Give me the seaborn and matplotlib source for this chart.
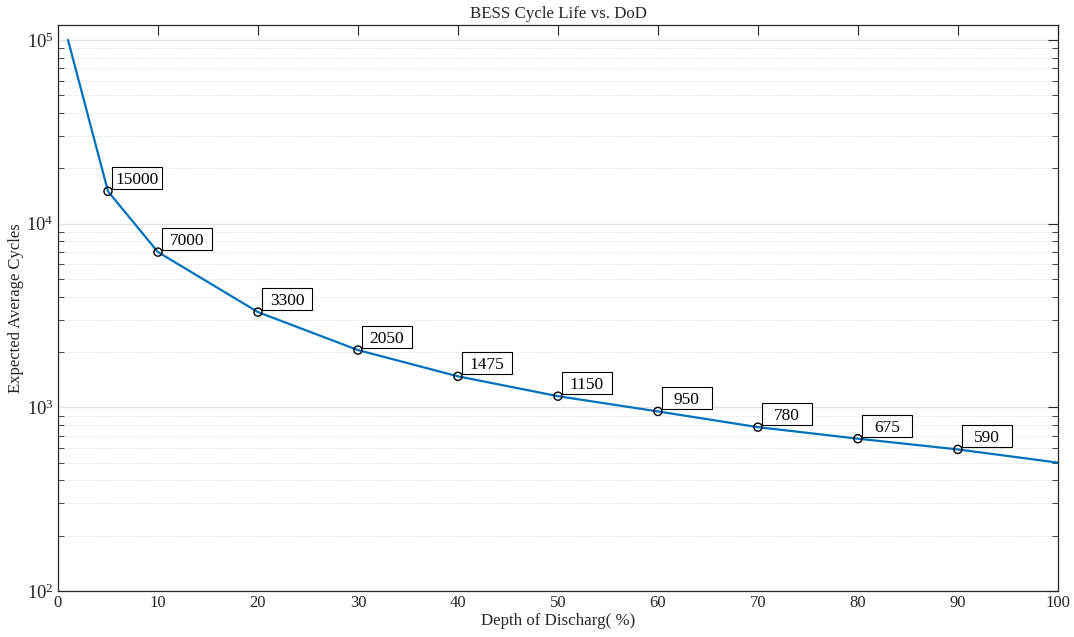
import matplotlib
matplotlib.use("Agg")
import matplotlib.pyplot as plt
import matplotlib.ticker as mticker
import matplotlib.transforms as mtransforms
from matplotlib.patches import Rectangle
import seaborn as sns
import pandas as pd

# Depth of discharge (%) and expected cycle life
dod = [1, 5, 10, 20, 30, 40, 50, 60, 70, 80, 90, 100]
cycles = [100000, 15000, 7000, 3300, 2050, 1475, 1150, 950, 780, 675, 590, 500]

# Annotated points
mark_dod = [5, 10, 20, 30, 40, 50, 60, 70, 80, 90]
mark_cycles = [15000, 7000, 3300, 2050, 1475, 1150, 950, 780, 675, 590]

x_ticks = [0, 10, 20, 30, 40, 50, 60, 70, 80, 90, 100]

sns.set_theme(style="white")
plt.rcParams["font.family"] = ["Liberation Serif", "DejaVu Serif"]
plt.rcParams["mathtext.fontset"] = "cm"

DPI = 100
fig = plt.figure(figsize=(10.74, 6.37), dpi=DPI)
ax = fig.add_axes([0.054, 0.0722, 0.931, 0.8886])

line_df = pd.DataFrame({"dod": dod, "cycles": cycles})
mark_df = pd.DataFrame({"dod": mark_dod, "cycles": mark_cycles})

sns.lineplot(data=line_df, x="dod", y="cycles", ax=ax, color="#0072BD",
             linewidth=1.6, zorder=3)
sns.scatterplot(data=mark_df, x="dod", y="cycles", ax=ax, marker="o",
                s=34, facecolor="none", edgecolor="black", linewidth=1.0,
                zorder=4)

ax.set_yscale("log")
ax.set_xlim(0, 100)
ax.set_ylim(100, 1.207e5)
ax.set_xticks(x_ticks)
ax.xaxis.set_minor_locator(mticker.NullLocator())
ax.yaxis.set_major_locator(mticker.LogLocator(base=10, numticks=10))
ax.yaxis.set_minor_locator(mticker.LogLocator(base=10, subs=range(2, 10), numticks=20))
ax.yaxis.set_minor_formatter(mticker.NullFormatter())

ax.grid(False)
ax.yaxis.grid(True, which="major", color="#e2e2e2", linestyle="-", linewidth=0.9)
ax.yaxis.grid(True, which="minor", color="#cfcfcf", linestyle=(0, (1, 2)), linewidth=0.6)
ax.set_axisbelow(True)

for sp in ax.spines.values():
    sp.set_color("#262626")
    sp.set_linewidth(0.9)

ax.tick_params(axis="both", which="major", direction="in", length=7, width=0.8,
               color="#262626", top=True, right=True, labelsize=12,
               labelcolor="#262626", pad=3)
ax.tick_params(axis="y", which="major", labelsize=13.5)
ax.tick_params(axis="y", which="minor", direction="in", length=4, width=0.6,
               color="#262626", left=True, right=True)

ax.set_title("BESS Cycle Life vs. DoD", fontsize=12.2, color="#262626", pad=5)
ax.set_xlabel("Depth of Discharg( %)", fontsize=12.2, color="#262626", labelpad=1)
ax.set_ylabel("Expected Average Cycles", fontsize=12, color="#262626", labelpad=2)

# Fixed-size value boxes placed up-right of each marker (pixel units)
box_w, box_h = 50, 22
off_x, off_y = 4, 2
for xv, yv in zip(mark_dod, mark_cycles):
    px, py = ax.transData.transform((xv, yv))
    rect = Rectangle((px + off_x, py + off_y), box_w, box_h,
                     transform=mtransforms.IdentityTransform(),
                     facecolor="white", edgecolor="black", linewidth=0.8,
                     zorder=5, clip_on=False)
    ax.add_patch(rect)
    ax.annotate(f"{yv}", xy=(xv, yv),
                xytext=(off_x + box_w / 2, off_y + box_h / 2),
                textcoords="offset pixels", fontsize=12.5, ha="center",
                va="center_baseline", color="black", zorder=6)

fig.savefig("out.png", dpi=DPI)
